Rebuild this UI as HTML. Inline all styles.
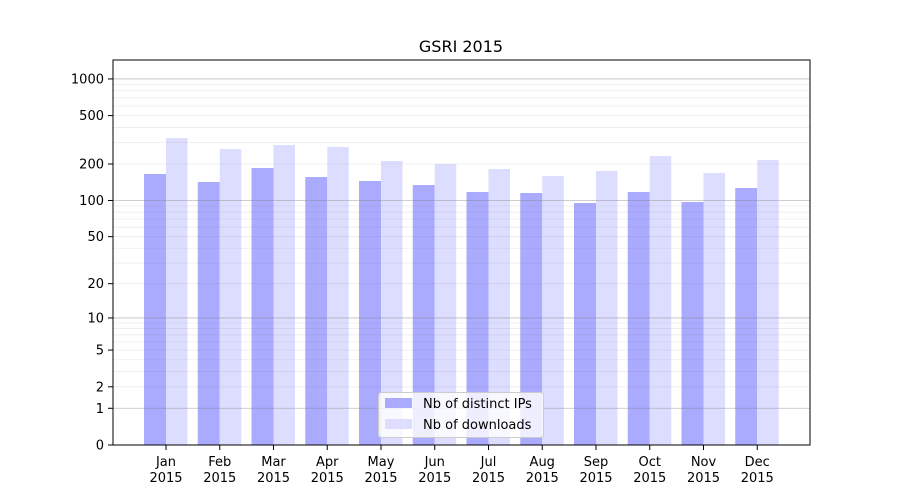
<!DOCTYPE html><html><head><style>body{margin:0;background:#fff}svg{display:block}</style></head><body>
<svg id="s" width="900" height="500" xmlns="http://www.w3.org/2000/svg" font-family="DejaVu Sans, Liberation Sans, sans-serif">
<rect width="900" height="500" fill="#fff"/>
<g id="bars"></g><g id="grid"></g>
<rect x="113" y="60" width="697" height="385" fill="none" stroke="#000" stroke-width="1"/>
<g id="ticks" font-size="13" fill="#000"></g>
<text x="461" y="52" font-size="16" text-anchor="middle">GSRI 2015</text>
<g>
<rect x="378.5" y="392.5" width="165" height="45" rx="3" fill="#fff" fill-opacity="0.8" stroke="#ccc"/>
<rect x="385" y="398" width="27" height="10" fill="#aaaaff"/>
<rect x="385" y="419" width="27" height="10" fill="#ddddff"/>
<text x="423" y="408" font-size="13">Nb of distinct IPs</text>
<text x="423" y="429" font-size="13">Nb of downloads</text>
</g>
</svg>
<script>
const ns="http://www.w3.org/2000/svg";
function el(p,t,a,txt){const e=document.createElementNS(ns,t);for(const k in a)e.setAttribute(k,a[k]);if(txt!==undefined)e.textContent=txt;document.getElementById(p).appendChild(e);}
const Y=v=>445-122*Math.log10(1+v);
for(const d of [1,10,100]){for(let m=2;m<10;m++){const y=Y(m*d);el("grid","line",{x1:113,x2:810,y1:y,y2:y,stroke:"#808080","stroke-opacity":0.15,"stroke-width":0.8});}}
for(const v of [1,10,100,1000]){const y=Y(v);el("grid","line",{x1:113,x2:810,y1:y,y2:y,stroke:"#808080","stroke-opacity":0.5,"stroke-width":0.8});}
[0,1,2,5,10,20,50,100,200,500,1000].forEach(v=>{const y=Y(v);el("ticks","line",{x1:108,x2:113,y1:y,y2:y,stroke:"#000"});el("ticks","text",{x:104,y:y+4.5,"text-anchor":"end"},v);});
const b=[174,182,168,177,181,185,192,193,203,192,202,188];
const l=[138,149,145,147,161,164,169,176,171,156,173,160];
const mo=["Jan","Feb","Mar","Apr","May","Jun","Jul","Aug","Sep","Oct","Nov","Dec"];
for(let i=0;i<12;i++){const c=166+i*53.75;
el("bars","rect",{x:c-22,y:b[i],width:22,height:445-b[i],fill:"#aaaaff"});
el("bars","rect",{x:c,y:l[i],width:21.5,height:445-l[i],fill:"#ddddff"});
el("ticks","line",{x1:c,x2:c,y1:445,y2:450,stroke:"#000"});
el("ticks","text",{x:c,y:466,"text-anchor":"middle"},mo[i]);
el("ticks","text",{x:c,y:482,"text-anchor":"middle"},"2015");}
</script>
</body></html>
